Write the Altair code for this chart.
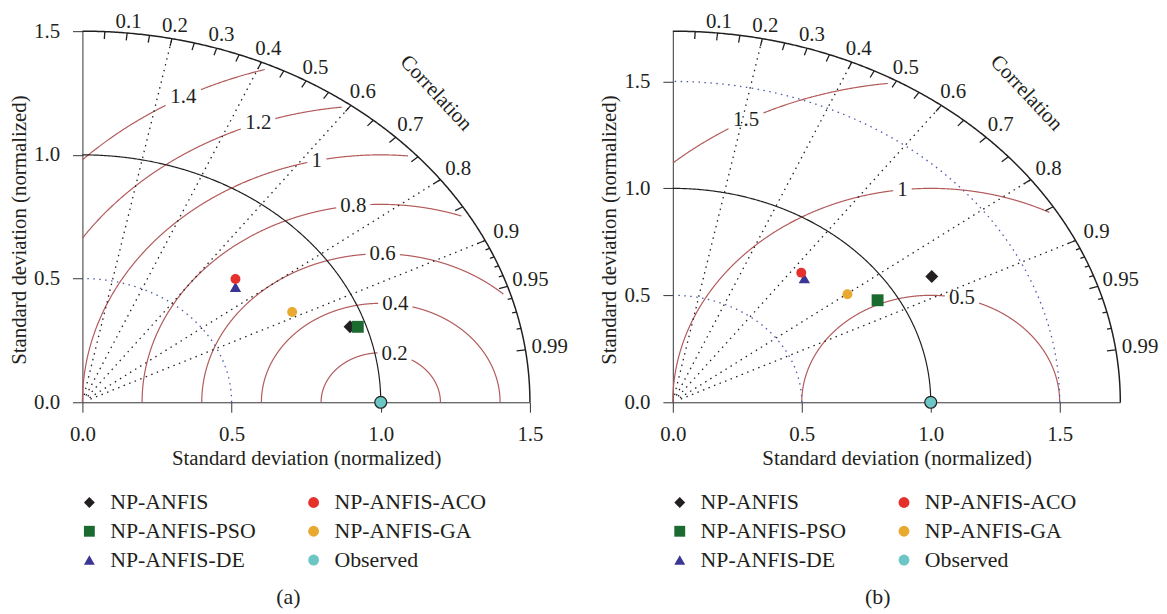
import numpy as np
import pandas as pd
import altair as alt

FONT = "Liberation Serif"
INK = "#231f20"
FS = 21
LFS = 22
RMS_COL = "#b35a5a"
BLUE = "#4a58a8"

# ---------------- data ----------------
# legend order (legend fills column by column)
legend_names = ["NP-ANFIS", "NP-ANFIS-PSO", "NP-ANFIS-DE", "NP-ANFIS-ACO", "NP-ANFIS-GA", "Observed"]
legend_shapes = ["diamond", "square", "triangle-up", "circle", "circle", "circle"]
legend_colors = ["#231f20", "#1b6b30", "#3b3594", "#e5312b", "#e8a92f", "#6cc6c4"]

draw_order = ["NP-ANFIS", "NP-ANFIS-PSO", "NP-ANFIS-DE", "NP-ANFIS-ACO", "NP-ANFIS-GA"]
draw_sizes = [170, 144, 130, 100, 100]

# panel (a): normalized std components (x = sd*corr, y = sd*sin)
a_x = [0.897, 0.923, 0.513, 0.513, 0.703]
a_y = [0.305, 0.305, 0.466, 0.498, 0.365]
# panel (b)
b_x = [1.004, 0.794, 0.510, 0.498, 0.677]
b_y = [0.588, 0.477, 0.579, 0.606, 0.505]

obs_x = [1.0]
obs_y = [0.0]

a_R = 1.5
b_R = 1.735

a_rms = [0.2, 0.4, 0.6, 0.8, 1.0, 1.2, 1.4]
a_rms_txt = ["0.2", "0.4", "0.6", "0.8", "1", "1.2", "1.4"]
a_rms_ang = [76.6, 83.0, 89.4, 96.6, 102.4, 110.0, 118.2]

b_rms = [0.5, 1.0, 1.5]
b_rms_txt = ["0.5", "1", "1.5"]
b_rms_ang = [76.0, 96.3, 118.5]

a_sd_arcs = [0.5]
b_sd_arcs = [0.5, 1.5]

ray_corr = [0.2, 0.4, 0.6, 0.8, 0.9]
corr_lab = [0.1, 0.2, 0.3, 0.4, 0.5, 0.6, 0.7, 0.8, 0.9, 0.95, 0.99]
corr_lab_txt = ["0.1", "0.2", "0.3", "0.4", "0.5", "0.6", "0.7", "0.8", "0.9", "0.95", "0.99"]
tick_major = [0.05, 0.1, 0.15, 0.2, 0.25, 0.3, 0.35, 0.4, 0.45, 0.5, 0.55, 0.6,
              0.65, 0.7, 0.75, 0.8, 0.85, 0.9, 0.95, 0.99]
tick_minor = [0.91, 0.92, 0.93, 0.94, 0.96, 0.97, 0.98]

axis_ticks = [0.0, 0.5, 1.0, 1.5]
W, H = 451, 374


def arc_points(r, n=361):
    t = np.linspace(0, np.pi / 2, n)
    return r * np.cos(t), r * np.sin(t)


def build_panel(R, px, py, rms, rms_txt, rms_ang, sd_arcs, tag, dx_title):
    sx, sy = W / R, H / R
    xs = alt.Scale(domain=[0, R], nice=False, zero=True)
    ys = alt.Scale(domain=[0, R], nice=False, zero=True)
    xax = alt.Axis(values=axis_ticks, format=".1f", title="Standard deviation (normalized)",
                   tickSize=10, labelPadding=12, titlePadding=3, labelFlush=False,
                   domainColor="#333333", tickColor="#333333")
    yax = alt.Axis(values=axis_ticks, format=".1f", title="Standard deviation (normalized)",
                   tickSize=10, labelPadding=13, titlePadding=4, labelFlush=False, titleY=200,
                   domainColor="#333333", tickColor="#333333")
    X = alt.X("x:Q", scale=xs, axis=xax)
    Y = alt.Y("y:Q", scale=ys, axis=yax)

    # RMS contours (centered on observed point), broken around labels
    rows, labs = [], []
    seg = 0
    phi = np.linspace(0, np.pi, 1441)
    for lev, txt, ang in zip(rms, rms_txt, rms_ang):
        lx = 1 + lev * np.cos(np.radians(ang))
        ly = lev * np.sin(np.radians(ang))
        labs.append(dict(x=lx, y=ly, t=txt))
        w = FS * (0.5 * sum(c.isdigit() for c in txt) + 0.25 * txt.count("."))
        hw, hh = w / 2 + 4, 10
        x = 1 + lev * np.cos(phi)
        y = lev * np.sin(phi)
        ok = (np.hypot(x, y) <= R * 0.985) & (x >= 0)
        gap = (np.abs((x - lx) * sx) < hw) & (np.abs((y - ly) * sy) < hh)
        ok &= ~gap
        prev = False
        for i in range(len(phi)):
            if ok[i]:
                if not prev:
                    seg += 1
                rows.append(dict(x=x[i], y=y[i], seg=seg, o=i))
            prev = ok[i]
    rms_df = pd.DataFrame(rows)
    rms_lab_df = pd.DataFrame(labs)

    def arcs_df(radii):
        rr = []
        for k, r in enumerate(radii):
            ax_, ay_ = arc_points(r)
            for i in range(len(ax_)):
                rr.append(dict(x=ax_[i], y=ay_[i], seg=k, o=i))
        return pd.DataFrame(rr)

    blue_df = arcs_df(sd_arcs)
    unit_df = arcs_df([1.0])
    outer_df = arcs_df([R])

    th = np.arccos(ray_corr)
    ray_df = pd.DataFrame(dict(x=0.02 * R * np.cos(th), y=0.02 * R * np.sin(th),
                               x2=R * np.cos(th), y2=R * np.sin(th)))

    tk = []
    for c in tick_major:
        t = np.arccos(c)
        tk.append(dict(x=R * np.cos(t), y=R * np.sin(t),
                       x2=R * (1 - 0.02) * np.cos(t), y2=R * (1 - 0.02) * np.sin(t)))
    for c in tick_minor:
        t = np.arccos(c)
        tk.append(dict(x=R * np.cos(t), y=R * np.sin(t),
                       x2=R * (1 - 0.01) * np.cos(t), y2=R * (1 - 0.01) * np.sin(t)))
    tick_df = pd.DataFrame(tk)

    cl = []
    for c, txt in zip(corr_lab, corr_lab_txt):
        t = np.arccos(c)
        k = 1.028 + 0.027 * c
        cl.append(dict(x=R * k * np.cos(t), y=R * k * np.sin(t), t=txt))
    clab_df = pd.DataFrame(cl)

    tc = np.arccos(0.688)
    ctitle_df = pd.DataFrame(dict(x=[1.148 * R * np.cos(tc)], y=[1.148 * R * np.sin(tc)], t=["Correlation"]))

    pts = pd.DataFrame(dict(x=px, y=py, name=draw_order, sz=draw_sizes))
    obs = pd.DataFrame(dict(x=obs_x, y=obs_y, name=["Observed"]))

    layers = []
    layers.append(alt.Chart(rms_df).mark_line(color=RMS_COL, strokeWidth=1.2).encode(
        x=X, y=Y, detail="seg:N", order="o:Q"))
    layers.append(alt.Chart(blue_df).mark_line(color=BLUE, strokeWidth=1.3, strokeDash=[1.5, 4.5]).encode(
        x=X, y=Y, detail="seg:N", order="o:Q"))
    layers.append(alt.Chart(ray_df).mark_rule(color=INK, strokeWidth=1.3, strokeDash=[1.5, 4.5]).encode(
        x=X, y=Y, x2="x2:Q", y2="y2:Q"))
    layers.append(alt.Chart(unit_df).mark_line(color=INK, strokeWidth=1.2).encode(
        x=X, y=Y, detail="seg:N", order="o:Q"))
    layers.append(alt.Chart(outer_df).mark_line(color=INK, strokeWidth=1.5).encode(
        x=X, y=Y, detail="seg:N", order="o:Q"))
    layers.append(alt.Chart(tick_df).mark_rule(color=INK, strokeWidth=1.3).encode(
        x=X, y=Y, x2="x2:Q", y2="y2:Q"))
    layers.append(alt.Chart(clab_df).mark_text(font=FONT, fontSize=FS, color=INK,
                                               align="center", baseline="middle").encode(
        x=X, y=Y, text="t:N"))
    layers.append(alt.Chart(ctitle_df).mark_text(font=FONT, fontSize=FS, color=INK, angle=47,
                                                 align="center", baseline="middle").encode(
        x=X, y=Y, text="t:N"))
    layers.append(alt.Chart(rms_lab_df).mark_text(font=FONT, fontSize=FS, color=INK,
                                                  align="center", baseline="middle").encode(
        x=X, y=Y, text="t:N"))
    leg = alt.Legend(title=None, orient="none", legendX=-4, legendY=464, columns=2,
                     symbolSize=120, symbolStrokeWidth=0, labelOffset=10, rowPadding=7,
                     columnPadding=47, labelFont=FONT, labelFontSize=LFS, labelColor=INK)
    layers.append(alt.Chart(pts).mark_point(filled=True, opacity=1).encode(
        x=X, y=Y,
        color=alt.Color("name:N", scale=alt.Scale(domain=legend_names, range=legend_colors), legend=leg),
        shape=alt.Shape("name:N", scale=alt.Scale(domain=legend_names, range=legend_shapes), legend=leg),
        size=alt.Size("sz:Q", scale=None, legend=None)))
    layers.append(alt.Chart(obs).mark_point(filled=True, opacity=1, shape="circle", size=144,
                                            fill="#6cc6c4", stroke=INK, strokeWidth=1.2).encode(
        x=X, y=Y))

    return alt.layer(*layers).properties(
        width=W, height=H,
        title=alt.TitleParams(tag, orient="bottom", anchor="middle", dx=dx_title, offset=16,
                              font=FONT, fontSize=LFS, fontWeight="normal", color=INK))


pa = build_panel(a_R, a_x, a_y, a_rms, a_rms_txt, a_rms_ang, a_sd_arcs, "(a)", -18)
pb = build_panel(b_R, b_x, b_y, b_rms, b_rms_txt, b_rms_ang, b_sd_arcs, "(b)", -19)

chart = alt.hconcat(pa, pb, spacing=144, bounds="flush").resolve_scale(
    x="independent", y="independent", color="independent", shape="independent"
).resolve_legend(color="independent", shape="independent").properties(
    padding={"left": 0, "top": 0, "right": 0, "bottom": 0}
).configure_view(stroke=None).configure_axis(
    labelFont=FONT, titleFont=FONT, labelFontSize=FS, titleFontSize=FS,
    labelColor=INK, titleColor=INK, titleFontWeight="normal", grid=False
)

chart.save("out.html", embed_options={"renderer": "svg", "actions": False})
